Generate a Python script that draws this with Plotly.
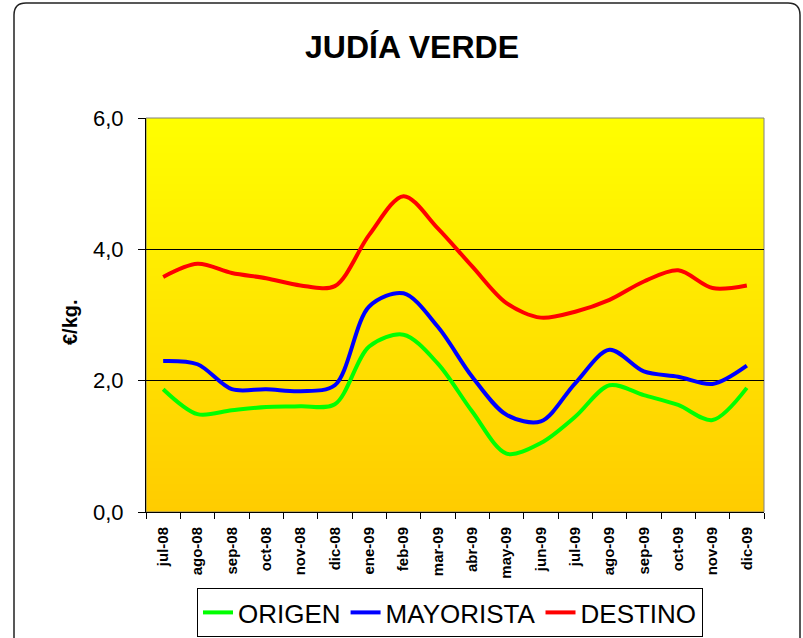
import base64
import struct
import zlib

import plotly.graph_objects as go

# Monthly prices, €/kg
months = ["jul-08", "ago-08", "sep-08", "oct-08", "nov-08", "dic-08",
          "ene-09", "feb-09", "mar-09", "abr-09", "may-09", "jun-09",
          "jul-09", "ago-09", "sep-09", "oct-09", "nov-09", "dic-09"]

origen = [1.87, 1.49, 1.55, 1.60, 1.61, 1.64, 2.52, 2.70, 2.26, 1.53, 0.89, 1.05,
          1.45, 1.93, 1.78, 1.63, 1.40, 1.89]
mayorista = [2.30, 2.25, 1.87, 1.87, 1.84, 1.93, 3.13, 3.33, 2.82, 2.06, 1.48, 1.38,
             1.96, 2.47, 2.14, 2.06, 1.95, 2.23]
destino = [3.58, 3.78, 3.64, 3.56, 3.45, 3.44, 4.22, 4.81, 4.32, 3.74, 3.18, 2.96,
           3.05, 3.23, 3.51, 3.68, 3.41, 3.45]

series = [("ORIGEN", origen, "#00FF00"),
          ("MAYORISTA", mayorista, "#0000FF"),
          ("DESTINO", destino, "#FF0000")]

W, H = 803, 638
L, R, T, B = 146, 764, 118, 512  # plot area in pixels


def px(x):
    return (x - L) / (R - L)


def py(y):
    return (B - y) / (B - T)


def gradient_png(top, bottom, n=256):
    """1 x n PNG with a vertical colour gradient, as a data URI."""
    rows = b""
    for i in range(n):
        t = i / (n - 1)
        c = [round(a + (b - a) * t) for a, b in zip(top, bottom)]
        rows += b"\x00" + bytes(c)

    def chunk(tag, data):
        body = tag + data
        return struct.pack(">I", len(data)) + body + struct.pack(">I", zlib.crc32(body) & 0xFFFFFFFF)

    png = (b"\x89PNG\r\n\x1a\n"
           + chunk(b"IHDR", struct.pack(">IIBBBBB", 1, n, 8, 2, 0, 0, 0))
           + chunk(b"IDAT", zlib.compress(rows))
           + chunk(b"IEND", b""))
    return "data:image/png;base64," + base64.b64encode(png).decode()


fig = go.Figure()
for name, vals, color in series:
    fig.add_trace(go.Scatter(
        x=months, y=vals, name=name, mode="lines",
        line=dict(color=color, width=4, shape="spline", smoothing=0.9),
    ))

# rounded outer frame of the chart
x0, x1, y0, y1, r = px(14), px(800), py(3), py(660), 12
rx, ry = r / (R - L), r / (B - T)
frame = (f"M {x0 + rx},{y0} L {x1 - rx},{y0} Q {x1},{y0} {x1},{y0 - ry} "
         f"L {x1},{y1 + ry} Q {x1},{y1} {x1 - rx},{y1} "
         f"L {x0 + rx},{y1} Q {x0},{y1} {x0},{y1 + ry} "
         f"L {x0},{y0 - ry} Q {x0},{y0} {x0 + rx},{y0} Z")

fig.update_layout(
    width=W, height=H,
    margin=dict(l=L, r=W - R, t=T, b=H - B, autoexpand=False),
    paper_bgcolor="white",
    plot_bgcolor="rgba(0,0,0,0)",
    separators=",.",
    font=dict(family="Arial, Liberation Sans, sans-serif", color="black"),
    title=dict(text="<b>JUDÍA VERDE</b>", x=412 / W, xanchor="center",
               y=1 - 47 / H, yanchor="middle", yref="container",
               font=dict(size=32, color="black")),
    images=[dict(source=gradient_png((255, 255, 0), (255, 204, 0)),
                 xref="paper", yref="paper", x=0, y=1, sizex=1, sizey=1,
                 sizing="stretch", layer="below")],
    shapes=[
        dict(type="path", path=frame, xref="paper", yref="paper",
             line=dict(color="#222222", width=1.5), layer="below"),
        dict(type="rect", xref="paper", yref="paper", x0=0, x1=1, y0=0, y1=1,
             line=dict(color="#808080", width=1), layer="below"),
    ],
    xaxis=dict(
        type="category", showgrid=False, showline=True, linecolor="black",
        linewidth=1, ticks="outside", tickson="boundaries", ticklen=6,
        tickcolor="black", tickangle=-90, automargin=False,
        tickfont=dict(size=15, weight="bold"), ticklabelstandoff=8,
        range=[-0.5, len(months) - 0.5],
    ),
    yaxis=dict(
        range=[0, 6], dtick=2, tickformat=".1f", showgrid=True,
        gridcolor="black", gridwidth=1, showline=True, linecolor="black",
        linewidth=1, ticks="outside", ticklen=7, tickcolor="black",
        tickfont=dict(size=22), zeroline=False, automargin=False,
        ticklabelstandoff=10,
    ),
    showlegend=True,
    legend=dict(
        orientation="h", x=px(450), xanchor="center", y=py(588), yanchor="top",
        bgcolor="white", bordercolor="black", borderwidth=1,
        font=dict(size=26), itemwidth=30, tracegroupgap=0,
    ),
    annotations=[dict(text="<b>€/kg.</b>", xref="paper", yref="paper",
                      x=px(70), y=py(322), xanchor="center", yanchor="middle",
                      textangle=-90, showarrow=False, font=dict(size=20))],
)

fig.write_html("out.html")
